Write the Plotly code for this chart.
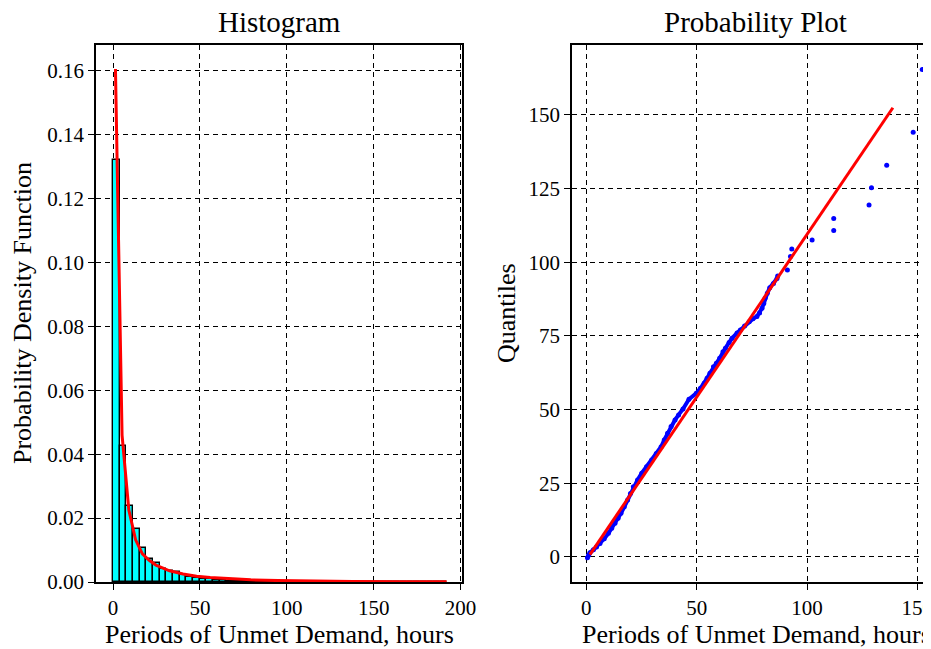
import plotly.graph_objects as go

# ---------------- data ----------------
# Histogram: density per bin, bins of equal width starting at 0
bin_width = 3.84
hist_density = [0.1320, 0.0427, 0.0237, 0.0165, 0.0108, 0.0071, 0.0060, 0.0041, 0.0036, 0.0032,
                0.0022, 0.0016, 0.0012, 0.0010, 0.0008, 0.0006, 0.0005, 0.0004, 0.0004, 0.0003,
                0.0002, 0.0003, 0.0002, 0.0001, 0.0002, 0.0001, 0.0001, 0.0000, 0.0001, 0.0000,
                0.0001, 0.0000, 0.0000, 0.0001, 0.0000, 0.0000, 0.0000, 0.0000, 0.0000, 0.0000,
                0.0000, 0.0000, 0.0000, 0.0000, 0.0000, 0.0000, 0.0000, 0.0000, 0.0000, 0.0001]

# Fitted probability density (red curve)
pdf_x = [1.4, 5.2, 9.1, 13.0, 16.9, 20.8, 24.7, 28.6, 32.5, 40.3, 48.1, 55.9, 67.6, 79.3,
         94.9, 114.4, 138.0, 165.0, 192.0]
pdf_y = [0.1606, 0.0460, 0.0225, 0.0132, 0.0088, 0.0068, 0.0053, 0.0043, 0.0035, 0.0025,
         0.0018, 0.0014, 0.00095, 0.00068, 0.00045, 0.00028, 0.00017, 0.00010, 0.00006]

# Probability plot: dense part of the ordered points
qq_dense_x = [0.5, 1.0, 1.6, 3.2, 4.6, 6.2, 8.1, 10.0, 11.5, 13.0, 14.4, 15.7, 17.2, 18.7,
              20.0, 21.3, 23.2, 25.1, 27.3, 29.6, 31.7, 33.9, 35.3, 36.8, 38.4, 40.2, 41.8,
              43.8, 46.5, 49.8, 51.7, 53.4, 54.7, 56.0, 57.6, 58.9, 60.4, 61.9, 63.0, 64.7,
              66.0, 68.3, 69.8, 71.7, 73.8, 75.5, 77.3, 78.5, 79.6, 80.4, 81.0, 82.0, 83.1,
              84.8, 86.4]
qq_dense_y = [-0.3, 0.6, 1.4, 2.4, 3.4, 4.6, 6.2, 8.0, 9.7, 11.4, 13.1, 14.8, 17.0, 19.3,
              21.5, 23.8, 26.1, 28.4, 30.6, 32.9, 35.1, 37.4, 39.7, 42.0, 44.3, 46.5, 48.2,
              50.2, 53.5, 55.5, 57.2, 58.9, 60.6, 62.3, 64.5, 65.7, 67.4, 69.6, 70.8, 72.8,
              74.2, 76.0, 77.0, 78.4, 79.8, 80.8, 81.6, 82.8, 84.4, 86.0, 87.8, 89.5, 91.3,
              92.8, 94.5]
# Probability plot: isolated points of the upper tail
qq_sparse_x = [86.7, 91.1, 92.5, 93.1, 102.3, 112.1, 112.1, 128.1, 129.2, 136.1, 148.1, 152.2]
qq_sparse_y = [95.3, 97.4, 101.9, 104.5, 107.5, 110.8, 114.8, 119.4, 125.3, 132.9, 144.1, 165.4]

# Reference (fit) line of the probability plot
fit_x = [1.6, 138.9]
fit_y = [0.8, 152.4]

# Tick values
hist_xticks = [0, 50, 100, 150, 200]
hist_yticks = [0.00, 0.02, 0.04, 0.06, 0.08, 0.10, 0.12, 0.14, 0.16]
qq_xticks = [0, 50, 100, 150]
qq_yticks = [0, 25, 50, 75, 100, 125, 150]

# ---------------- figure ----------------
W, H = 931, 649
OFF = 8  # the page places the figure 8 px from the top-left corner
FONT = "Liberation Serif"

bin_centers = [bin_width * (i + 0.5) for i in range(len(hist_density))]

fig = go.Figure()
fig.add_trace(go.Bar(x=bin_centers, y=hist_density, width=bin_width,
                     marker=dict(color="#00FFFF", line=dict(color="black", width=1.4)),
                     xaxis="x", yaxis="y", showlegend=False))
fig.add_trace(go.Scatter(x=pdf_x, y=pdf_y, mode="lines",
                         line=dict(color="red", width=3),
                         xaxis="x", yaxis="y", showlegend=False))
fig.add_trace(go.Scatter(x=qq_dense_x, y=qq_dense_y, mode="lines+markers",
                         line=dict(color="blue", width=4),
                         marker=dict(color="blue", size=5),
                         xaxis="x2", yaxis="y2", showlegend=False))
fig.add_trace(go.Scatter(x=qq_sparse_x, y=qq_sparse_y, mode="markers",
                         marker=dict(color="blue", size=5),
                         xaxis="x2", yaxis="y2", showlegend=False))
fig.add_trace(go.Scatter(x=fit_x, y=fit_y, mode="lines",
                         line=dict(color="red", width=3),
                         xaxis="x2", yaxis="y2", showlegend=False))

ydom = [(H - (582 - OFF)) / H, (H - (45 - OFF)) / H]
common = dict(showline=True, linecolor="black", linewidth=1.5,
              ticks="outside", ticklen=6, tickwidth=1.3, tickcolor="black",
              showgrid=True, gridcolor="black", gridwidth=1, griddash="5px,4px",
              zeroline=False, automargin=False,
              tickfont=dict(family=FONT, size=21, color="black"))

fig.update_layout(
    width=W, height=H, autosize=False,
    margin=dict(l=0, r=0, t=0, b=0),
    paper_bgcolor="white", plot_bgcolor="white",
    template="none",
    bargap=0,
    xaxis=dict(domain=[(96 - OFF) / W, (462.3 - OFF) / W], range=[-9.8, 201], anchor="y",
               tickvals=hist_xticks, mirror=True, **common),
    yaxis=dict(domain=ydom, range=[0, 0.1681], anchor="x",
               tickvals=hist_yticks, tickformat=".2f", mirror=True, **common),
    xaxis2=dict(domain=[(572 - OFF) / W, 1.0], range=[-6.5, 159.8], anchor="y2",
                tickvals=qq_xticks, mirror=True, **common),
    yaxis2=dict(domain=ydom, range=[-8.5, 173.7], anchor="x2",
                tickvals=qq_yticks, mirror=False, **common),
)

def ann(text, xpx, ypx, size, angle=0):
    fig.add_annotation(text=text, x=(xpx - OFF) / W, y=1 - (ypx - OFF) / H,
                       xref="paper", yref="paper",
                       showarrow=False, textangle=angle, xanchor="center", yanchor="middle",
                       font=dict(family=FONT, size=size, color="black"))

ann("Histogram", 279, 22, 29)
ann("Probability Plot", 755, 22, 29)
ann("Periods of Unmet Demand, hours", 279, 634, 26)
ann("Periods of Unmet Demand, hours", 756, 634, 26)
ann("Probability Density Function", 22, 313, 26, -90)
ann("Quantiles", 506, 313, 26, -90)

fig.write_html("out.html")
